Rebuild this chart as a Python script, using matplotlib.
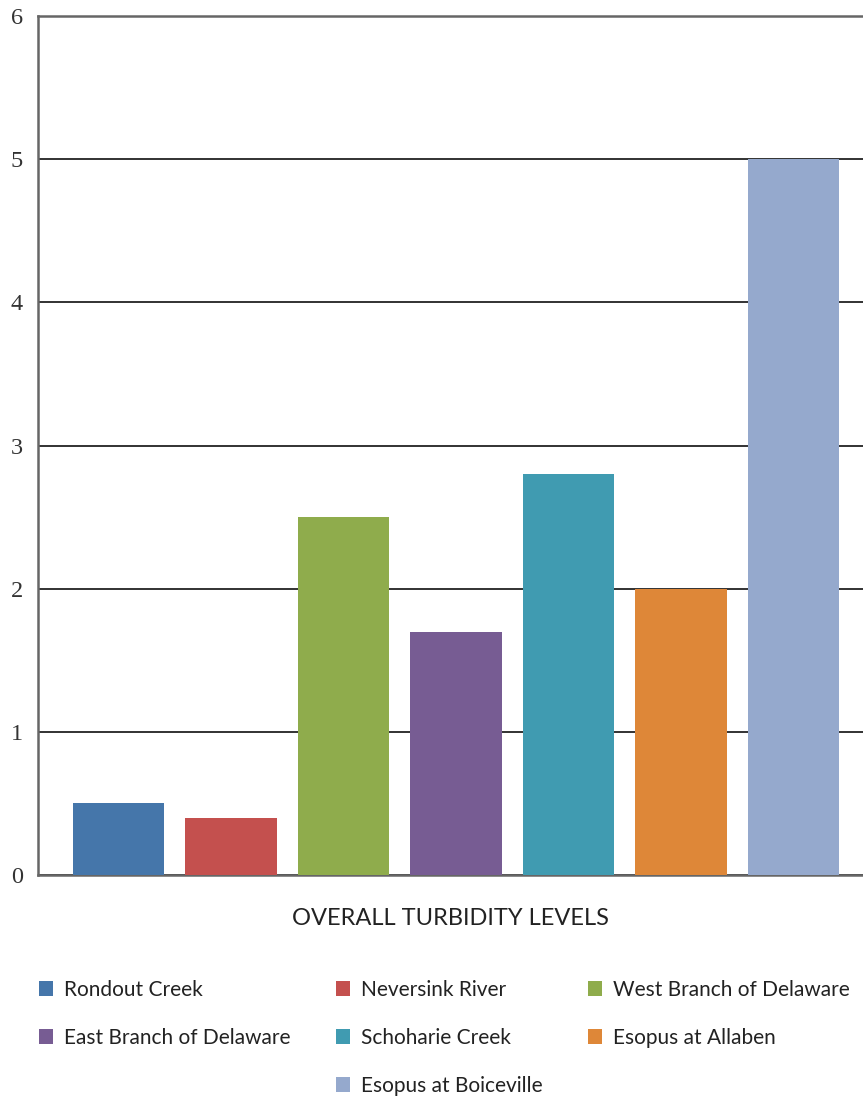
import matplotlib.pyplot as plt
from matplotlib.patches import Patch

# Turbidity per stream
streams = ["Rondout Creek", "Neversink River", "West Branch of Delaware",
           "East Branch of Delaware", "Schoharie Creek", "Esopus at Allaben",
           "Esopus at Boiceville"]
turbidity = [0.5, 0.4, 2.5, 1.7, 2.8, 2.0, 5.0]
colors = ["#4576AA", "#C4504E", "#8FAC4C", "#775C93", "#409BB1", "#DE8738", "#95A9CD"]
yticks = [0, 1, 2, 3, 4, 5, 6]

W, H = 863, 1097
fig = plt.figure(figsize=(W / 100, H / 100), dpi=100)
ax = fig.add_axes([38 / W, 1 - 875 / H, 1 - 38 / W, (875 - 16) / H])

x = range(len(streams))
ax.bar(x, turbidity, width=0.81, color=colors, zorder=3)

ax.set_ylim(0, 6)
ax.set_xlim(-0.716, 6.618)
ax.set_yticks(yticks)
ax.set_xticks([])
ax.tick_params(axis="y", length=0, pad=11, labelsize=17.5)
for lab in ax.get_yticklabels():
    lab.set_fontfamily("Liberation Serif")
    lab.set_color("#333333")

ax.grid(axis="y", color="#222222", linewidth=1.3, zorder=1)
for s in ["top", "left", "bottom"]:
    ax.spines[s].set_color("#666666")
    ax.spines[s].set_linewidth(1.8)
ax.spines["right"].set_visible(False)

ax.set_xlabel("OVERALL TURBIDITY LEVELS", fontsize=17, family="Lato",
              color="#222222", labelpad=24)

# legend filled column by column, with blanks so the last entry sits in the middle
blank = Patch(facecolor="none", edgecolor="none")
h = [Patch(facecolor=c) for c in colors]
handles = [h[0], h[3], blank, h[1], h[4], h[6], h[2], h[5], blank]
labels = [streams[0], streams[3], "", streams[1], streams[4], streams[6],
          streams[2], streams[5], ""]
fig.legend(handles, labels, ncol=3, loc="upper left",
           bbox_to_anchor=(20 / W, 1 - 961 / H), frameon=False,
           prop={"family": "Lato", "size": 15}, labelcolor="#222222",
           handlelength=0.7, handleheight=0.7, handletextpad=0.5,
           columnspacing=2.18, labelspacing=1.35)

fig.savefig("out.png", dpi=100)
